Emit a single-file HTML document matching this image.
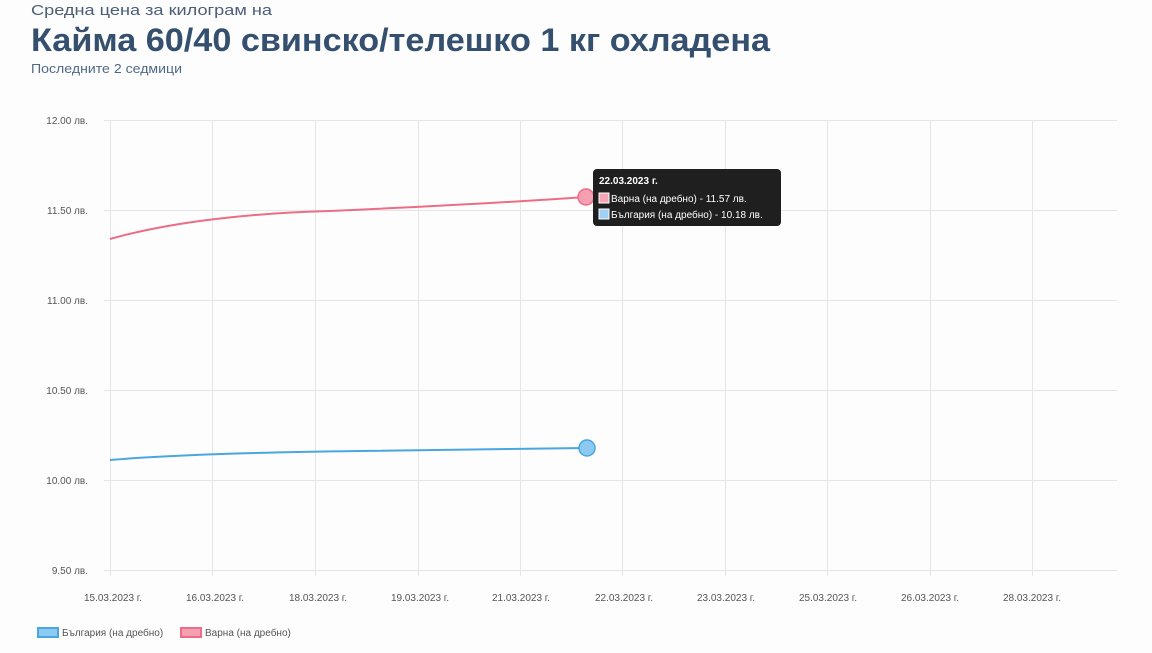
<!DOCTYPE html>
<html><head><meta charset="utf-8"><style>
body{margin:0;width:1152px;height:648px;background:#fdfdfd;font-family:"Liberation Sans",sans-serif;overflow:hidden}
</style></head><body>
<svg width="1152" height="648" xmlns="http://www.w3.org/2000/svg" font-family="Liberation Sans, sans-serif">
<text x="31" y="15" font-size="15" fill="#4a5e78" textLength="241" lengthAdjust="spacingAndGlyphs">Средна цена за килограм на</text>
<text x="31" y="51" font-size="32" font-weight="bold" fill="#34506e" textLength="739" lengthAdjust="spacingAndGlyphs">Кайма 60/40 свинско/телешко 1 кг охладена</text>
<text x="31" y="73" font-size="13" fill="#4f6a88" textLength="151" lengthAdjust="spacingAndGlyphs">Последните 2 седмици</text>
<g stroke="#e6e6e6" stroke-width="1">
<line x1="104" y1="120.5" x2="1117" y2="120.5"/>
<line x1="104" y1="210.5" x2="1117" y2="210.5"/>
<line x1="104" y1="300.5" x2="1117" y2="300.5"/>
<line x1="104" y1="390.5" x2="1117" y2="390.5"/>
<line x1="104" y1="480.5" x2="1117" y2="480.5"/>
<line x1="104" y1="570.5" x2="1117" y2="570.5"/>
<line x1="110.5" y1="120" x2="110.5" y2="576"/>
<line x1="212.5" y1="120" x2="212.5" y2="576"/>
<line x1="315.5" y1="120" x2="315.5" y2="576"/>
<line x1="418.5" y1="120" x2="418.5" y2="576"/>
<line x1="520.5" y1="120" x2="520.5" y2="576"/>
<line x1="622.5" y1="120" x2="622.5" y2="576"/>
<line x1="725.5" y1="120" x2="725.5" y2="576"/>
<line x1="827.5" y1="120" x2="827.5" y2="576"/>
<line x1="930.5" y1="120" x2="930.5" y2="576"/>
<line x1="1032.5" y1="120" x2="1032.5" y2="576"/>
</g>
<g font-size="10" fill="#555" text-anchor="end">
<text x="88" y="124">12.00 лв.</text>
<text x="88" y="214">11.50 лв.</text>
<text x="88" y="304">11.00 лв.</text>
<text x="88" y="394">10.50 лв.</text>
<text x="88" y="484">10.00 лв.</text>
<text x="88" y="574">9.50 лв.</text>
</g>
<g font-size="10" fill="#555" text-anchor="middle">
<text x="113" y="601">15.03.2023 г.</text>
<text x="215" y="601">16.03.2023 г.</text>
<text x="318" y="601">18.03.2023 г.</text>
<text x="420" y="601">19.03.2023 г.</text>
<text x="521" y="601">21.03.2023 г.</text>
<text x="624" y="601">22.03.2023 г.</text>
<text x="726" y="601">23.03.2023 г.</text>
<text x="828" y="601">25.03.2023 г.</text>
<text x="930" y="601">26.03.2023 г.</text>
<text x="1032" y="601">28.03.2023 г.</text>
</g>
<path d="M110,239 C170,222 250,213 330,211 C420,207 500,203 586,197" fill="none" stroke="#ec6d85" stroke-width="2"/>
<path d="M110,460 C180,454 280,452 360,451 C450,450 520,449 586,448" fill="none" stroke="#4aa6df" stroke-width="2"/>
<circle cx="586" cy="197" r="8" fill="#f59fb2" stroke="#ec6d85" stroke-width="1.5"/>
<circle cx="587" cy="448" r="8" fill="#8ccaf1" stroke="#4aa6df" stroke-width="1.5"/>
<polygon points="593,197 598,192 598,202" fill="#1f1f1f"/>
<rect x="593" y="169" width="188" height="57" rx="4" fill="#1f1f1f"/>
<text x="599" y="184" font-size="10" font-weight="bold" fill="#fff">22.03.2023 г.</text>
<rect x="599" y="193" width="10" height="10" fill="#f6a4b6" stroke="#fff" stroke-width="1"/>
<text x="611" y="202" font-size="10" fill="#fff">Варна (на дребно) - 11.57 лв.</text>
<rect x="599" y="209" width="10" height="10" fill="#9fd1f5" stroke="#fff" stroke-width="1"/>
<text x="611" y="218" font-size="10" fill="#fff">България (на дребно) - 10.18 лв.</text>
<rect x="38" y="628" width="20" height="9" fill="#8ccaf1" stroke="#4aa6df" stroke-width="2"/>
<text x="62" y="636" font-size="10" fill="#555">България (на дребно)</text>
<rect x="181" y="628" width="20" height="9" fill="#f59fb2" stroke="#ec6d85" stroke-width="2"/>
<text x="205" y="636" font-size="10" fill="#555">Варна (на дребно)</text>
</svg>
</body></html>
